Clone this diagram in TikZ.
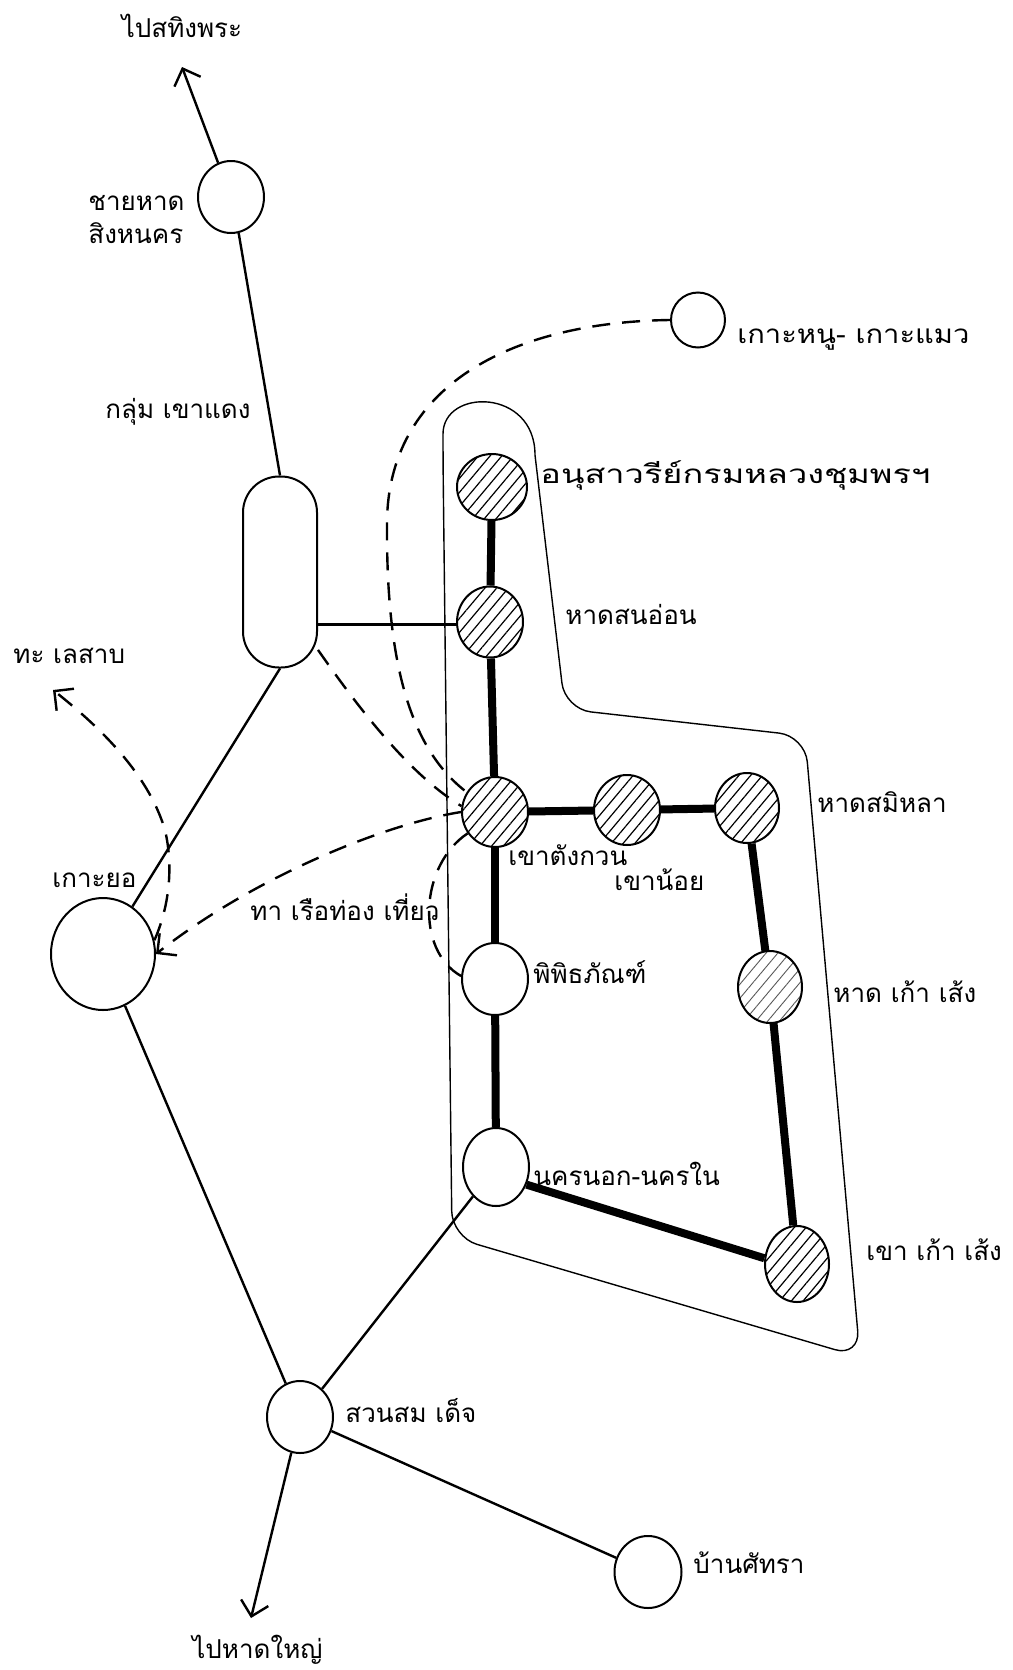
\documentclass[tikz,border=0pt]{standalone}
\usepackage{fontspec}
\newfontfamily\thai[Script=Thai]{Loma}
\usetikzlibrary{shapes.geometric,arrows.meta,patterns.meta}
\begin{document}
\begin{tikzpicture}[x=0.5pt,y=-0.5pt,
  stn/.style={draw,ellipse,line width=1pt,inner sep=0pt},
  hatch/.style={stn,pattern={Lines[angle=50,distance=4.5pt,line width=0.6pt]}},
  hatchlight/.style={stn,pattern={Lines[angle=50,distance=4.5pt,line width=0.45pt]},pattern color=black!65},
  thinline/.style={line width=1.2pt},
  route/.style={line width=4pt},
  dashline/.style={line width=1.2pt,dash pattern=on 9pt off 6pt},
  tip/.style={-{Straight Barb[length=7pt,width=14pt]}},
  lbl/.style={font=\thai\fontsize{13}{16}\selectfont,inner sep=0pt,anchor=base west},
  encl/.style={line width=0.7pt}]
\fill[white] (0,0) rectangle (1012,1670);
\useasboundingbox (0,0) rectangle (1012,1670);

% enclosure of the tour area
\draw[encl] (535,455) [rounded corners=13pt] -- (565,709) -- (805,736) -- (860,1357) -- (452,1237) -- (443,460)
  [sharp corners] .. controls (443,388) and (535,388) .. (535,455);

% stations
\node[stn,minimum width=33pt,minimum height=36pt] (singha) at (231,197) {};
\node[draw,line width=1pt,rounded corners=18pt,minimum width=37pt,minimum height=95.5pt,inner sep=0pt] (kd) at (280,572) {};
\node[stn,minimum width=27pt,minimum height=27.5pt] (hnu) at (698,320) {};
\node[hatch,minimum width=35pt,minimum height=33pt] (anu) at (492,487) {};
\node[hatch,minimum width=33pt,minimum height=35.5pt] (sonon) at (490,622) {};
\node[hatch,minimum width=33pt,minimum height=35pt] (kt) at (495,812) {};
\node[hatch,minimum width=33pt,minimum height=35pt] (noi) at (627,810) {};
\node[hatch,minimum width=32pt,minimum height=35pt] (samila) at (747,808) {};
\node[hatchlight,minimum width=32pt,minimum height=36pt] (kshat) at (770,987) {};
\node[stn,minimum width=33pt,minimum height=36pt] (pipit) at (495,979) {};
\node[stn,minimum width=33pt,minimum height=39pt] (nakhon) at (496,1167) {};
\node[hatch,minimum width=32pt,minimum height=38pt] (kks) at (797,1264) {};
\node[stn,minimum width=52pt,minimum height=56pt] (koyo) at (103,954) {};
\node[stn,minimum width=33pt,minimum height=36pt] (suan) at (300,1417) {};
\node[stn,minimum width=33.5pt,minimum height=36pt] (ban) at (648,1572) {};

\coordinate (tipN) at (182,67);
\coordinate (tipS) at (251,1618);
\coordinate (tipLake) at (53,690);

% thin road links
\draw[thinline,tip] (singha) -- (tipN);
\draw[thinline] (singha.-78) -- (kd.north);
\draw[thinline] (kd.-54) -- (kd.-54 -| sonon.west);
\draw[thinline] (kd.south) -- (koyo);
\draw[thinline] (koyo) -- (suan);
\draw[thinline] (suan) -- (nakhon);
\draw[thinline] (suan) -- (ban);
\draw[thinline,tip] (suan) -- (tipS);

% main tour route
\draw[route] (anu) -- (sonon);
\draw[route] (sonon) -- (kt);
\draw[route] (kt) -- (noi);
\draw[route] (noi) -- (samila);
\draw[route] (samila) -- (kshat);
\draw[route] (kshat) -- (kks);
\draw[route] (kks.170) -- (nakhon.-30);
\draw[route] (nakhon) -- (pipit);
\draw[route] (pipit) -- (kt);

% boat routes
\draw[dashline] (hnu.west) .. controls (520,322) and (390,380) .. (387,520) .. controls (386,650) and (405,745) .. (kt.145);
\draw[dashline] (kd.-64) .. controls (360,710) and (410,775) .. (kt.170);
\draw[dashline,tip] (kt.west) .. controls (380,825) and (250,880) .. (koyo.east);
\draw[dashline] (kt.218) .. controls (420,865) and (415,950) .. (pipit.175);
\draw[dashline,tip] (koyo.15) .. controls (172,900) and (172,860) .. (165,830) .. controls (150,780) and (110,735) .. (tipLake);

% labels
\node[lbl,anchor=base] (l1) at (182,38) {ไปสทิงพระ};
\node[lbl] (l2a) at (88,210) {ชายหาด};
\node[lbl] (l2b) at (88,243) {สิงหนคร};
\node[lbl] (l3) at (105,418) {กลุ่ม เขาแดง};
\node[lbl] (l4) at (737,343) {\scalebox{1.12}[1]{เกาะหนู- เกาะแมว}};
\node[lbl] (l5) at (540,483) {\scalebox{1.32}[1]{อนุสาวรีย์กรมหลวงชุมพรฯ}};
\node[lbl] (l6) at (565,624) {หาดสนอ่อน};
\node[lbl] (l7) at (13,663) {ทะ เลสาบ};
\node[lbl] (l8) at (817,812) {หาดสมิหลา};
\node[lbl] (l9) at (508,865) {เขาตังกวน};
\node[lbl] (l10) at (614,890) {เขาน้อย};
\node[lbl] (l11) at (52,887) {เกาะยอ};
\node[lbl] (l12) at (250,920) {ทา เรือท่อง เที่ยว};
\node[lbl] (l13) at (533,983) {พิพิธภัณฑ์};
\node[lbl] (l14) at (833,1002) {หาด เก้า เส้ง};
\node[lbl] (l15) at (533,1185) {นครนอก-นครใน};
\node[lbl] (l16) at (866,1260) {เขา เก้า เส้ง};
\node[lbl] (l17) at (345,1422) {สวนสม เด็จ};
\node[lbl] (l18) at (693,1573) {บ้านศัทรา};
\node[lbl] (l19) at (192,1658) {ไปหาดใหญ่};
\end{tikzpicture}
\end{document}
